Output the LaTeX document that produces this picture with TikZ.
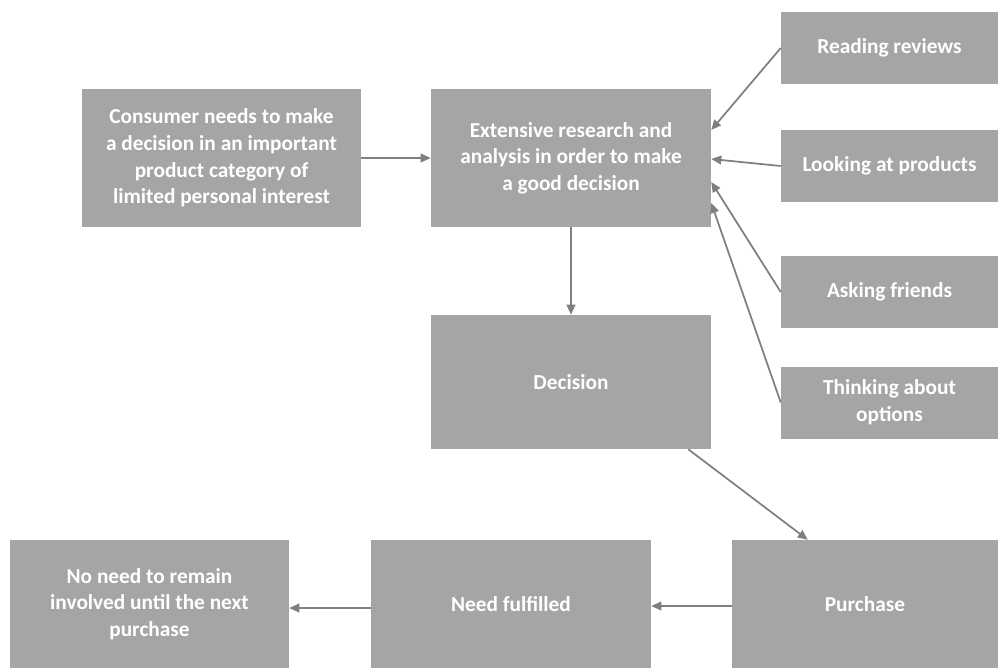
\documentclass[tikz,border=0pt]{standalone}
\usepackage{fontspec}
\setmainfont{Carlito}
\usetikzlibrary{arrows.meta,positioning}
\definecolor{boxGrey}{HTML}{A5A5A5}
\definecolor{lineGrey}{HTML}{7F7F7F}

\tikzset{
  stagebox/.style={fill=boxGrey,draw=none,text=white,align=center,inner sep=4pt,
                   font=\fontsize{16}{20}\selectfont\bfseries},
  flow/.style={draw=lineGrey,line width=1.3pt,-{Triangle[length=7.5pt,width=6.5pt]}}
}

\begin{document}
\begin{tikzpicture}[x=0.75pt,y=-0.75pt]
\useasboundingbox (0,0) rectangle (998,668);
% main chain
\node[stagebox,minimum width=209.25pt,minimum height=103.5pt] (need) at (221.5,158) {%
Consumer needs to make\\ a decision in an important\\ product category of\\ limited personal interest};
\node[stagebox,minimum width=210pt,minimum height=103.5pt] (research) at (571,158) {%
Extensive research and\\ analysis in order to make\\ a good decision};
\node[stagebox,minimum width=210pt,minimum height=100.5pt] (decision) at (571,382) {Decision};
\node[stagebox,minimum width=199.5pt,minimum height=96pt] (purchase) at (865,604) {Purchase};
\node[stagebox,minimum width=210pt,minimum height=96pt] (fulfilled) at (511,604) {Need fulfilled};
\node[stagebox,minimum width=209.25pt,minimum height=96pt] (noneed) at (149.5,604) {%
No need to remain\\ involved until the next\\ purchase};
% sources of research
\node[stagebox,minimum width=162.75pt,minimum height=54pt] (reviews) at (889.5,48) {Reading reviews};
\node[stagebox,minimum width=162.75pt,minimum height=54pt] (products) at (889.5,166) {Looking at products};
\node[stagebox,minimum width=162.75pt,minimum height=54pt] (friends) at (889.5,292) {Asking friends};
\node[stagebox,minimum width=162.75pt,minimum height=54pt] (options) at (889.5,402.5) {Thinking about\\ options};

\draw[flow] (need.east) -- (research.west);
\draw[flow] (reviews.west) -- ([yshift=21pt]research.east);
\draw[flow] (products.west) -- ([yshift=-0.75pt]research.east);
\draw[flow] (friends.west) -- ([yshift=-18pt]research.east);
\draw[flow] (options.west) -- ([yshift=-33.75pt]research.east);
\draw[flow] (research.south) -- (decision.north);
\draw[flow] ([xshift=-17.25pt]decision.south east) -- ([xshift=57pt]purchase.north west);
\draw[flow] ([yshift=-1.5pt]purchase.west) -- ([yshift=-1.5pt]fulfilled.east);
\draw[flow] ([yshift=-3pt]fulfilled.west) -- ([yshift=-3pt]noneed.east);
\end{tikzpicture}
\end{document}
